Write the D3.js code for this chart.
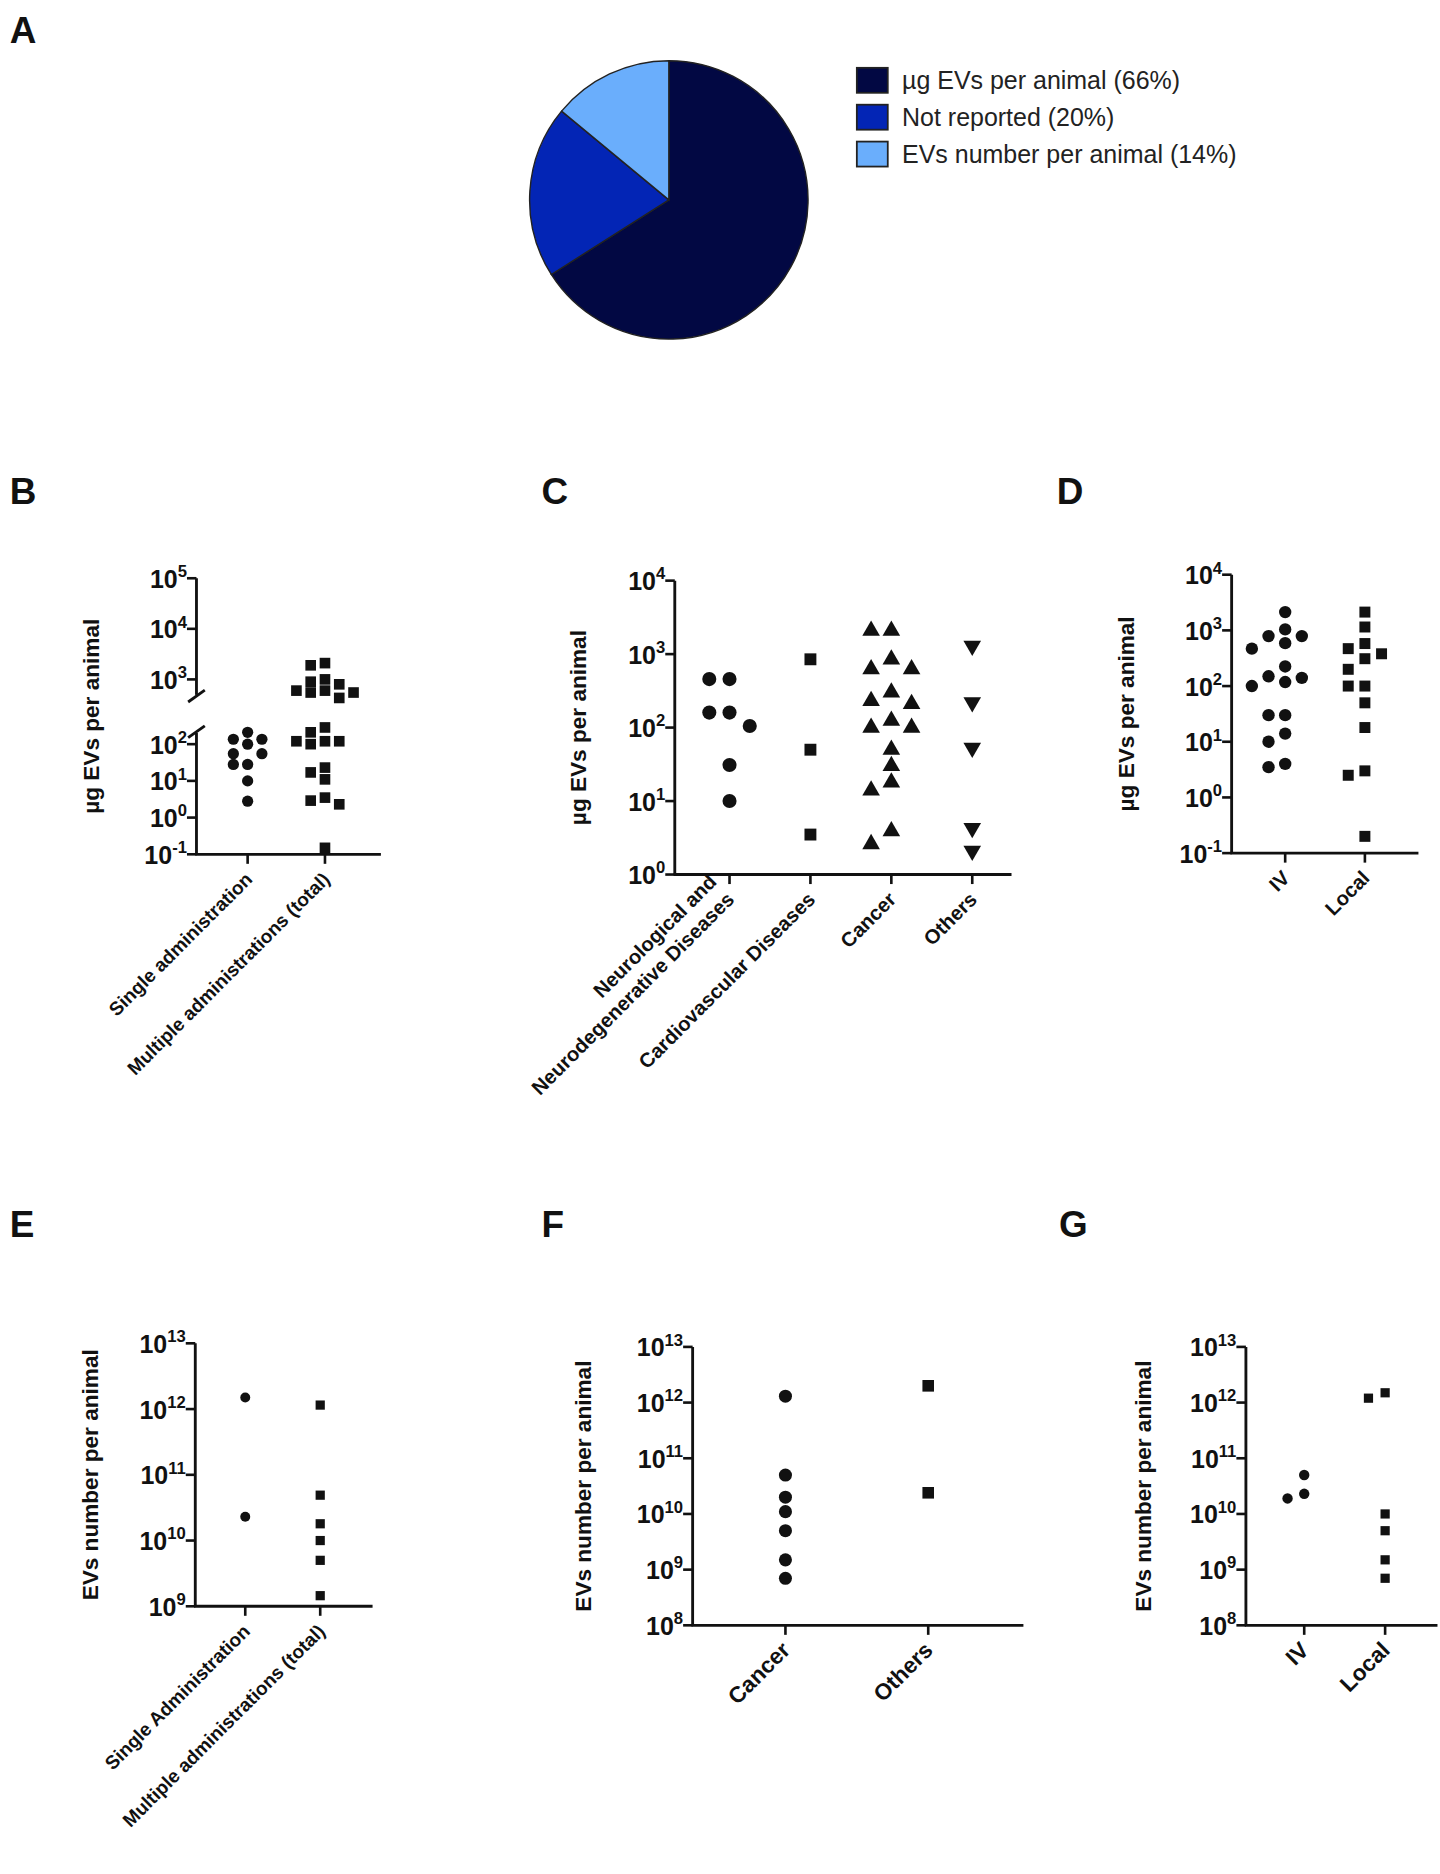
<!DOCTYPE html>
<html><head><meta charset="utf-8">
<script src="https://cdn.jsdelivr.net/npm/d3@7"></script>
<style>body{margin:0;background:#fff}text{font-family:"Liberation Sans",Arial,sans-serif}</style>
</head><body>
<svg id="c" width="1440" height="1874" viewBox="0 0 1210 1575"></svg>
<script>
// ---- data ----
const pieLabels = ["µg EVs per animal (66%)", "Not reported (20%)", "EVs number per animal (14%)"];
const pieValues = [66, 20, 14];
const pieColors = ["#020843", "#0325b5", "#6aaefc"];

const bCats = ["Single administration", "Multiple administrations (total)"];
const bSingle = [210, 136, 136, 100, 55, 55, 28, 28, 10, 2.8];
const bMultiple = [2100, 1900, 1000, 900, 800, 600, 600, 550, 550, 430, 285, 210, 120, 120, 120, 100, 23, 17, 11, 3.5, 2.9, 2.3, 0.15];

const cCats = [["Neurological and", "Neurodegenerative Diseases"], ["Cardiovascular Diseases"], ["Cancer"], ["Others"]];
const cNeuro = [457, 457, 160, 160, 105, 31, 10];
const cCardio = [850, 50, 3.5];
const cCancer = [2080, 2080, 850, 625, 625, 300, 230, 210, 124, 100, 100, 50, 30, 18, 14, 3.9, 2.6];
const cOthers = [1300, 220, 53, 4.3, 2.1];

const dCats = ["IV", "Local"];
const dIV = [2130, 1040, 790, 790, 590, 470, 225, 150, 140, 118, 100, 30, 30, 14, 10, 4, 3.5];
const dLocal = [2130, 1150, 580, 470, 380, 310, 200, 100, 100, 50, 18, 3, 2.5, 0.2];

const eCats = ["Single Administration", "Multiple administrations (total)"];
const eSingle = [1.5e12, 2.3e10];
const eMultiple = [1.15e12, 4.9e10, 1.8e10, 1e10, 5e9, 1.45e9];

const fCats = ["Cancer", "Others"];
const fCancer = [1.3e12, 5e10, 2e10, 1.1e10, 5e9, 1.5e9, 7e8];
const fOthers = [2e12, 2.4e10];

const gCats = ["IV", "Local"];
const gIV = [5e10, 2.3e10, 1.9e10];
const gLocal = [1.5e12, 1.2e12, 1e10, 5e9, 1.5e9, 7e8];

const yLabelUg = "µg EVs per animal";
const yLabelNum = "EVs number per animal";

// ---- drawing ----
const svg = d3.select("#c");

function letter(t, x, y) {
  svg.append("text").attr("x", x).attr("y", y).text(t)
    .attr("font-size", 31).attr("font-weight", "bold").attr("fill", "#111");
}
letter("A", 8, 36); letter("B", 8, 424); letter("C", 455, 424); letter("D", 888, 424);
letter("E", 8, 1040); letter("F", 455, 1040); letter("G", 890, 1040);

// Pie
const pg = svg.append("g").attr("transform", "translate(562,168)");
const arcs = d3.pie().sort(null)(pieValues);
pg.selectAll("path").data(arcs).join("path")
  .attr("d", d3.arc().innerRadius(0).outerRadius(117))
  .attr("fill", (d, i) => pieColors[i]).attr("stroke", "#222").attr("stroke-width", 1.2);
const lg = svg.append("g").attr("transform", "translate(720,57)");
pieLabels.forEach((l, i) => {
  lg.append("rect").attr("x", 0).attr("y", i * 31).attr("width", 26).attr("height", 21)
    .attr("fill", pieColors[i]).attr("stroke", "#222").attr("stroke-width", 1.5);
  lg.append("text").attr("x", 38).attr("y", i * 31 + 18).text(l)
    .attr("font-size", 21).attr("fill", "#222");
});

function sym(type, size) {
  if (type === "circle") return d3.symbol(d3.symbolCircle, size)();
  if (type === "square") return d3.symbol(d3.symbolSquare, size)();
  return d3.symbol(d3.symbolTriangle, size)();
}

function powLabel(g, x, y, e) {
  const t = g.append("text").attr("x", x).attr("y", y).attr("text-anchor", "end")
    .attr("font-weight", "bold").attr("font-size", 21).attr("fill", "#111");
  t.append("tspan").text("10");
  t.append("tspan").text(e).attr("font-size", 14).attr("dy", -9);
}

function swarm(vals, yf, s, thr) {
  const placed = [];
  const sorted = vals.slice().sort((a, b) => b - a);
  const order = [0, -1, 1, -2, 2, -3, 3];
  return sorted.map(v => {
    const y = yf(v);
    let off = 0;
    for (const o of order) {
      if (!placed.some(p => p.o === o && Math.abs(p.y - y) < thr)) { off = o; break; }
    }
    placed.push({o: off, y});
    return {v, y, dx: off * s};
  });
}

function panel(cfg) {
  const g = svg.append("g");
  const x = d3.scalePoint().domain(cfg.cats.map((c, i) => i)).range([cfg.cx[0], cfg.cx[cfg.cx.length - 1]]);
  const segs = cfg.segs;
  const bottom = segs[0].range[0];
  const top = segs[segs.length - 1].range[1];
  segs.forEach((sg, k) => {
    const sc = d3.scaleLog().domain(sg.domain).range(sg.range);
    sg.scale = sc;
    const y0 = sg.range[0] + (k > 0 ? -4 : 0), y1 = sg.range[1] + (k < segs.length - 1 ? 6 : 0);
    g.append("line").attr("x1", cfg.ax).attr("x2", cfg.ax).attr("y1", y0).attr("y2", y1)
      .attr("stroke", "#111").attr("stroke-width", 2.4);
    sg.ticks.forEach(e => {
      const yy = sc(Math.pow(10, e));
      g.append("line").attr("x1", cfg.ax - 8).attr("x2", cfg.ax).attr("y1", yy).attr("y2", yy)
        .attr("stroke", "#111").attr("stroke-width", 2.2);
      powLabel(g, cfg.ax - 8, yy + 8, e);
    });
  });
  if (segs.length > 1) {
    const a = segs[0].range[1] + 6, b = segs[1].range[0] - 4;
    [a - 1, b + 1].forEach(yy => {
      g.append("line").attr("x1", cfg.ax - 7).attr("x2", cfg.ax + 7).attr("y1", yy + 5).attr("y2", yy - 5)
        .attr("stroke", "#111").attr("stroke-width", 2.4);
    });
  }
  g.append("line").attr("x1", cfg.ax - 1).attr("x2", cfg.xEnd).attr("y1", bottom).attr("y2", bottom)
    .attr("stroke", "#111").attr("stroke-width", 2.4);
  cfg.cats.forEach((c, i) => {
    const xx = x(i);
    g.append("line").attr("x1", xx).attr("x2", xx).attr("y1", bottom).attr("y2", bottom + 8)
      .attr("stroke", "#111").attr("stroke-width", 2.2);
    const lines = Array.isArray(c) ? c : [c];
    const t = g.append("text").attr("transform", `translate(${xx + 5},${bottom + 22}) rotate(-45)`)
      .attr("text-anchor", "end").attr("font-weight", "bold").attr("font-size", cfg.xfs || 17).attr("fill", "#111");
    lines.forEach((l, j) => t.append("tspan").attr("x", 0).attr("dy", j === 0 ? -(lines.length - 1) * 21 : 21).text(l));
  });
  g.append("text").attr("transform", `translate(${cfg.ax - cfg.ylOff},${(top + bottom) / 2}) rotate(-90)`)
    .attr("text-anchor", "middle").attr("font-weight", "bold").attr("font-size", 19).attr("fill", "#111").text(cfg.ylabel);
  const yf = v => { for (const sg of segs) { if (v >= sg.domain[0] && v <= sg.domain[1]) return sg.scale(v); } return segs[0].scale(v); };
  cfg.series.forEach((vals, i) => {
    const m = cfg.markers[i];
    const pts = swarm(vals, yf, cfg.s, cfg.thr);
    g.selectAll(null).data(pts).join("path")
      .attr("d", sym(m, cfg.size[m]))
      .attr("transform", d => `translate(${x(i) + d.dx},${d.y})` + (m === "tridown" ? " rotate(180)" : ""))
      .attr("fill", "#111");
  });
}

panel({cats: bCats, cx: [208, 273], ax: 165, xEnd: 320, ylOff: 82, ylabel: yLabelUg, xfs: 16,
  segs: [{domain: [0.1, Math.pow(10, 2.5)], range: [718, 610], ticks: [-1, 0, 1, 2]},
         {domain: [Math.pow(10, 2.6), 1e5], range: [588, 486], ticks: [3, 4, 5]}],
  series: [bSingle, bMultiple], markers: ["circle", "square"], s: 12, thr: 9, size: {circle: 70, square: 80}});

panel({cats: cCats, cx: [613, 681, 749, 817], ax: 567, xEnd: 850, ylOff: 75, ylabel: yLabelUg,
  segs: [{domain: [1, 1e4], range: [735, 488], ticks: [0, 1, 2, 3, 4]}],
  series: [cNeuro, cCardio, cCancer, cOthers], markers: ["circle", "square", "triangle", "tridown"],
  s: 17, thr: 12, size: {circle: 110, square: 100, triangle: 95, tridown: 95}});

panel({cats: dCats, cx: [1080, 1147], ax: 1035, xEnd: 1192, ylOff: 82, ylabel: yLabelUg,
  segs: [{domain: [0.1, 1e4], range: [717, 483], ticks: [-1, 0, 1, 2, 3, 4]}],
  series: [dIV, dLocal], markers: ["circle", "square"], s: 14, thr: 11, size: {circle: 85, square: 85}});

panel({cats: eCats, cx: [206, 269], ax: 164, xEnd: 313, ylOff: 82, ylabel: yLabelNum, xfs: 16,
  segs: [{domain: [1e9, 1e13], range: [1350, 1129], ticks: [9, 10, 11, 12, 13]}],
  series: [eSingle, eMultiple], markers: ["circle", "square"], s: 12, thr: 9, size: {circle: 55, square: 60}});

panel({cats: fCats, cx: [660, 780], ax: 582, xEnd: 860, ylOff: 85, ylabel: yLabelNum, xfs: 19,
  segs: [{domain: [1e8, 1e13], range: [1366, 1132], ticks: [8, 9, 10, 11, 12, 13]}],
  series: [fCancer, fOthers], markers: ["circle", "square"], s: 14, thr: 11, size: {circle: 95, square: 95}});

panel({cats: gCats, cx: [1096, 1164], ax: 1047, xEnd: 1208, ylOff: 80, ylabel: yLabelNum, xfs: 19,
  segs: [{domain: [1e8, 1e13], range: [1366, 1132], ticks: [8, 9, 10, 11, 12, 13]}],
  series: [gIV, gLocal], markers: ["circle", "square"], s: 14, thr: 11, size: {circle: 60, square: 60}});
</script>
</body></html>
